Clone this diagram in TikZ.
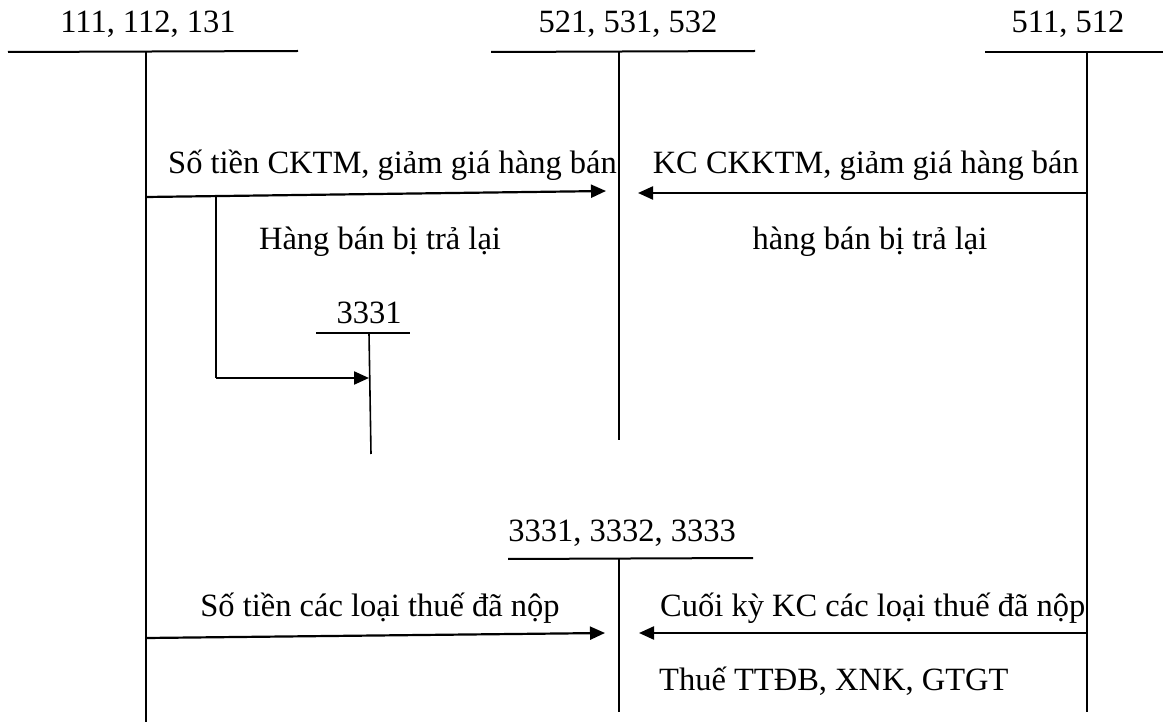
\documentclass[tikz,border=0pt]{standalone}
\usepackage{fontspec}
\setmainfont{Liberation Serif}
\usetikzlibrary{arrows.meta}
\begin{document}
\begin{tikzpicture}[x=1pt,y=-1pt,
  every node/.style={font=\fontsize{32.5}{38}\selectfont, inner sep=0pt},
  tline/.style={line width=2pt},
  vline/.style={line width=1.6pt},
  arr/.style={line width=2.2pt, -{Triangle[length=15pt,width=13pt]}}]
\useasboundingbox (0,0) rectangle (1163,727);
% account 111,112,131
\node (h1) at (148,24) {111, 112, 131};
\coordinate (a1l) at (8,52); \coordinate (a1r) at (298,51);
\coordinate (a1t) at (146,52); \coordinate (a1b) at (146,722);
\draw[tline] (a1l) -- (a1r);
\draw[vline] (a1t) -- (a1b);
% account 521,531,532
\node (h2) at (628,24) {521, 531, 532};
\coordinate (a2l) at (491,52); \coordinate (a2r) at (755,51);
\coordinate (a2t) at (619,52); \coordinate (a2b) at (619,440);
\draw[tline] (a2l) -- (a2r);
\draw[vline] (a2t) -- (a2b);
% account 511,512
\node (h3) at (1068,24) {511, 512};
\coordinate (a3l) at (985,52); \coordinate (a3r) at (1163,52);
\coordinate (a3t) at (1087,52); \coordinate (a3b) at (1087,712);
\draw[tline] (a3l) -- (a3r);
\draw[vline] (a3t) -- (a3b);
% arrows top
\coordinate (p1s) at (146,197); \coordinate (p1e) at (606,191);
\draw[arr] (p1s) -- (p1e);
\node[anchor=base east] (l1) at (617,174) {Số tiền CKTM, giảm giá hàng bán};
\coordinate (p2s) at (1087,193); \coordinate (p2e) at (638,193);
\draw[arr] (p2s) -- (p2e);
\node[anchor=base east] (l2) at (1079,174) {KC CKKTM, giảm giá hàng bán};
\node (l3) at (380,242) {Hàng bán bị trả lại};
\node (l4) at (870,242) {hàng bán bị trả lại};
% account 3331 small
\node (h4) at (369,313) {3331};
\coordinate (a4l) at (316,333); \coordinate (a4r) at (410,333);
\coordinate (a4t) at (369,333); \coordinate (a4b) at (371,454);
\draw[tline] (a4l) -- (a4r);
\draw[vline] (a4t) -- (a4b);
\coordinate (br1) at (216,196); \coordinate (br2) at (216,378);
\coordinate (br3) at (369,378);
\draw[vline] (br1) -- (br2);
\draw[arr] (br2) -- (br3);
% account 3331,3332,3333
\node (h5) at (622,533) {3331, 3332, 3333};
\coordinate (a5l) at (508,559); \coordinate (a5r) at (753,558);
\coordinate (a5t) at (619,559); \coordinate (a5b) at (619,712);
\draw[tline] (a5l) -- (a5r);
\draw[vline] (a5t) -- (a5b);
\coordinate (p3s) at (146,638); \coordinate (p3e) at (605,633);
\draw[arr] (p3s) -- (p3e);
\node (l5) at (380,608) {Số tiền các loại thuế đã nộp};
\coordinate (p4s) at (1087,633); \coordinate (p4e) at (639,633);
\draw[arr] (p4s) -- (p4e);
\node[anchor=west] (l6) at (660,608) {Cuối kỳ KC các loại thuế đã nộp};
\node[anchor=west] (l7) at (659,681) {Thuế TTĐB, XNK, GTGT};
\end{tikzpicture}
\end{document}
